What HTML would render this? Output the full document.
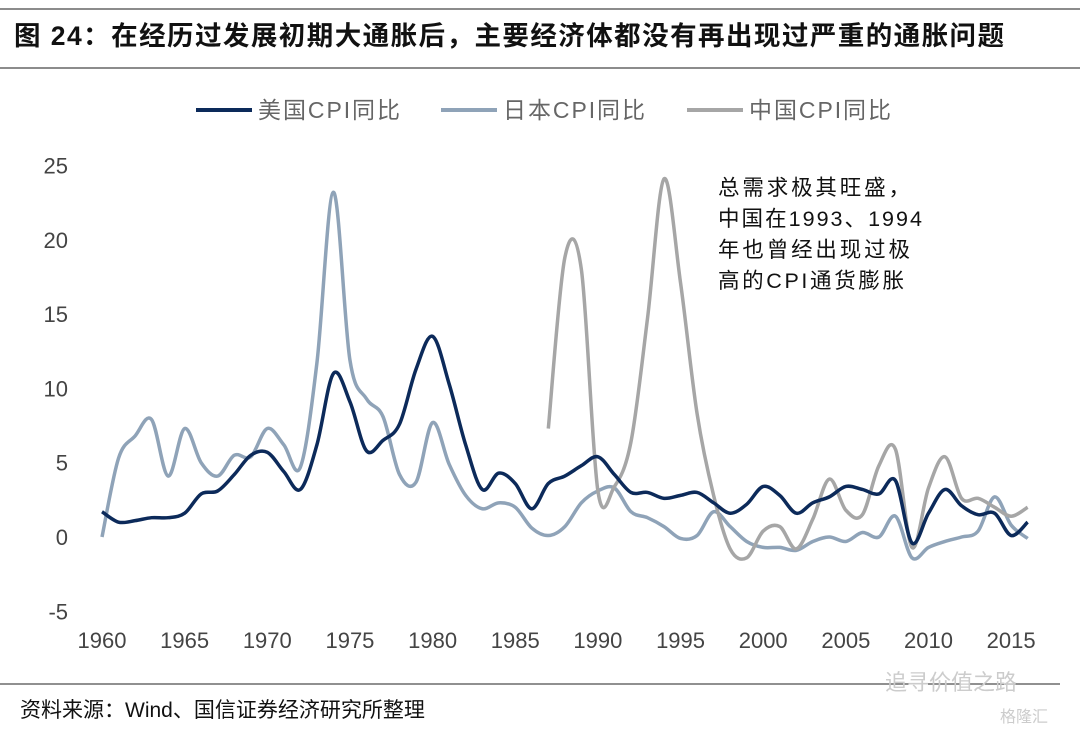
<!DOCTYPE html>
<html><head><meta charset="utf-8"><style>
body{margin:0;background:#fff;width:1080px;height:729px;overflow:hidden;font-family:"Liberation Sans","Noto Sans CJK SC",sans-serif}
svg text{font-family:"Liberation Sans","Noto Sans CJK SC",sans-serif}
</style></head><body>
<svg id="chart" width="1080" height="729">
<line x1="0" y1="9" x2="1080" y2="9" stroke="#666" stroke-width="1.5"/>
<text x="14" y="45" font-size="26.5" font-weight="bold" fill="#111" textLength="990">图 24：在经历过发展初期大通胀后，主要经济体都没有再出现过严重的通胀问题</text>
<line x1="0" y1="68" x2="1080" y2="68" stroke="#666" stroke-width="1.5"/>
<g>
<line x1="196" y1="110" x2="252" y2="110" stroke="#0c2a5a" stroke-width="4"/><text x="258" y="118" font-size="23" fill="#666" textLength="142">美国CPI同比</text>
<line x1="441" y1="110" x2="497" y2="110" stroke="#8fa3b8" stroke-width="4"/><text x="503" y="118" font-size="23" fill="#666" textLength="142">日本CPI同比</text>
<line x1="687" y1="110" x2="743" y2="110" stroke="#a6a6a6" stroke-width="4"/><text x="749" y="118" font-size="23" fill="#666" textLength="142">中国CPI同比</text>
</g>
<g id="axes"></g>
<g id="lines"></g>
<g font-size="21.5" fill="#111">
<text x="718" y="195" textLength="192">总需求极其旺盛，</text>
<text x="718" y="226" textLength="204">中国在1993、1994</text>
<text x="718" y="257" textLength="192">年也曾经出现过极</text>
<text x="718" y="288" textLength="186">高的CPI通货膨胀</text>
</g>
<line x1="0" y1="684" x2="1060" y2="684" stroke="#222" stroke-width="1"/>
<text x="20" y="717" font-size="21" fill="#111">资料来源：Wind、国信证券经济研究所整理</text>
<text x="885" y="690" font-size="22" fill="#ccc">追寻价值之路</text>
<text x="1000" y="722" font-size="16" fill="#ccc">格隆汇</text>
</svg>
<script>
const yearsUS=[1960,1961,1962,1963,1964,1965,1966,1967,1968,1969,1970,1971,1972,1973,1974,1975,1976,1977,1978,1979,1980,1981,1982,1983,1984,1985,1986,1987,1988,1989,1990,1991,1992,1993,1994,1995,1996,1997,1998,1999,2000,2001,2002,2003,2004,2005,2006,2007,2008,2009,2010,2011,2012,2013,2014,2015,2016];
const usCPI=[1.7,1.0,1.1,1.3,1.3,1.6,2.9,3.1,4.2,5.5,5.7,4.4,3.2,6.2,11.0,9.1,5.8,6.5,7.6,11.3,13.5,10.3,6.2,3.2,4.3,3.6,1.9,3.6,4.1,4.8,5.4,4.2,3.0,3.0,2.6,2.8,3.0,2.3,1.6,2.2,3.4,2.8,1.6,2.3,2.7,3.4,3.2,2.9,3.8,-0.4,1.6,3.2,2.1,1.5,1.6,0.1,1.0];
const jpCPI=[0,5.3,6.8,7.9,4.1,7.3,5.0,4.1,5.5,5.4,7.3,6.2,4.7,11.7,23.2,11.9,9.3,8.1,4.2,3.7,7.7,4.9,2.8,1.9,2.3,2.0,0.6,0.1,0.7,2.3,3.1,3.3,1.7,1.3,0.7,-0.1,0.1,1.7,0.7,-0.3,-0.7,-0.7,-0.9,-0.3,0.0,-0.3,0.3,0.0,1.4,-1.4,-0.7,-0.3,0.0,0.4,2.7,0.8,-0.1];
const yearsCN=[1987,1988,1989,1990,1991,1992,1993,1994,1995,1996,1997,1998,1999,2000,2001,2002,2003,2004,2005,2006,2007,2008,2009,2010,2011,2012,2013,2014,2015,2016];
const cnCPI=[7.3,18.8,18.0,3.1,3.4,6.4,14.7,24.1,17.1,8.3,2.8,-0.8,-1.4,0.4,0.7,-0.8,1.2,3.9,1.8,1.5,4.8,5.9,-0.7,3.3,5.4,2.6,2.6,2.0,1.4,2.0];
const yTicks=[-5,0,5,10,15,20,25];
const xTicks=[1960,1965,1970,1975,1980,1985,1990,1995,2000,2005,2010,2015];
const X=y=>102+(y-1960)*16.53;
const Y=v=>537-v*14.86;
const NS="http://www.w3.org/2000/svg";
const axes=document.getElementById('axes'),lines=document.getElementById('lines');
function mk(t,a,p){const e=document.createElementNS(NS,t);for(const k in a)e.setAttribute(k,a[k]);p.appendChild(e);return e;}
yTicks.forEach(v=>{const t=mk('text',{x:68,y:Y(v)+8,'font-size':22,fill:'#444','text-anchor':'end'},axes);t.textContent=v;

});
xTicks.forEach(v=>{const t=mk('text',{x:X(v),y:648,'font-size':22,fill:'#444','text-anchor':'middle'},axes);t.textContent=v;

});
function path(xs,vs){const p=xs.map((x,i)=>[X(x),Y(vs[i])]);let d='M'+p[0][0]+','+p[0][1];
for(let i=0;i<p.length-1;i++){const p0=p[i-1]||p[i],p1=p[i],p2=p[i+1],p3=p[i+2]||p2;const k=6;
d+=' C'+(p1[0]+(p2[0]-p0[0])/k)+','+(p1[1]+(p2[1]-p0[1])/k)+' '+(p2[0]-(p3[0]-p1[0])/k)+','+(p2[1]-(p3[1]-p1[1])/k)+' '+p2[0]+','+p2[1];}return d;}
const j=mk('path',{d:path(yearsUS,jpCPI),fill:'none',stroke:'#8fa3b8','stroke-width':3.5},lines);


const c=mk('path',{d:path(yearsCN,cnCPI),fill:'none',stroke:'#a6a6a6','stroke-width':3.5},lines);


const u=mk('path',{d:path(yearsUS,usCPI),fill:'none',stroke:'#0c2a5a','stroke-width':3.5},lines);


</script>
</body></html>
